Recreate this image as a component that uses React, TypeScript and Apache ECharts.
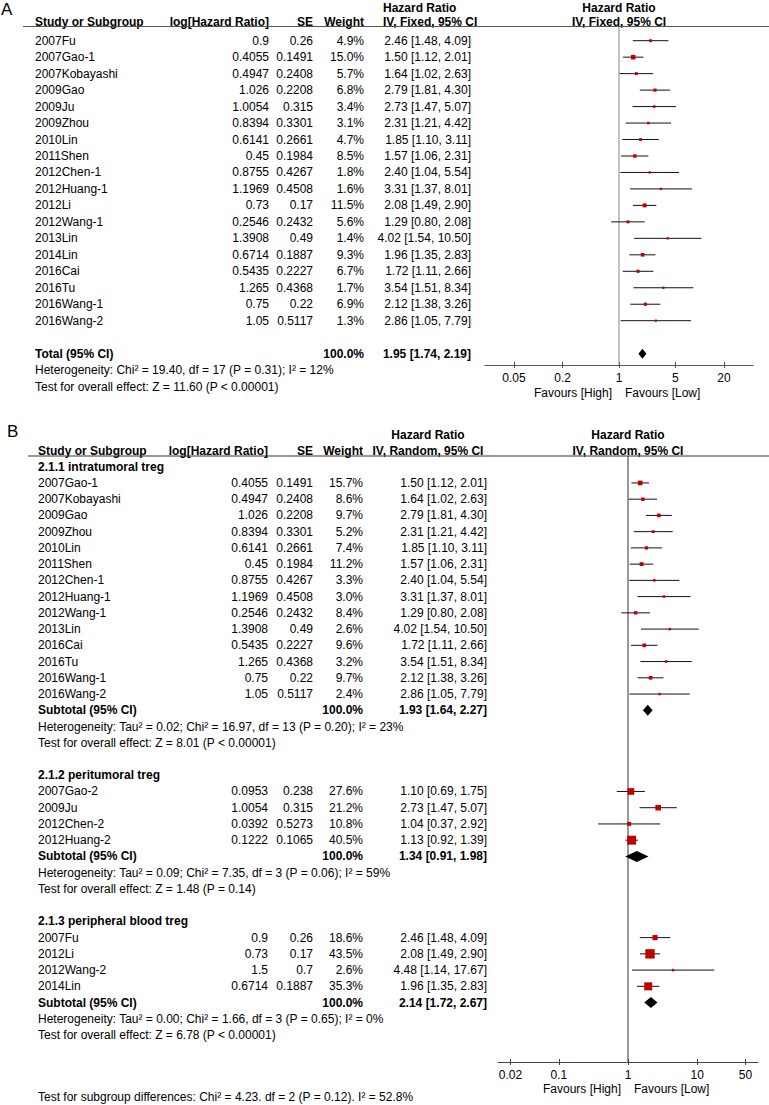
import React, { useEffect, useRef } from 'react';
import * as echarts from 'echarts';

const FONT = '"Liberation Sans", Arial, Helvetica, sans-serif';

// ---------- Panel A (fixed effect) ----------
const studiesA = ['2007Fu', '2007Gao-1', '2007Kobayashi', '2009Gao', '2009Ju', '2009Zhou', '2010Lin', '2011Shen', '2012Chen-1', '2012Huang-1', '2012Li', '2012Wang-1', '2013Lin', '2014Lin', '2016Cai', '2016Tu', '2016Wang-1', '2016Wang-2'];
const logHRA = [0.9, 0.4055, 0.4947, 1.026, 1.0054, 0.8394, 0.6141, 0.45, 0.8755, 1.1969, 0.73, 0.2546, 1.3908, 0.6714, 0.5435, 1.265, 0.75, 1.05];
const seA = [0.26, 0.1491, 0.2408, 0.2208, 0.315, 0.3301, 0.2661, 0.1984, 0.4267, 0.4508, 0.17, 0.2432, 0.49, 0.1887, 0.2227, 0.4368, 0.22, 0.5117];
const weightA = [4.9, 15.0, 5.7, 6.8, 3.4, 3.1, 4.7, 8.5, 1.8, 1.6, 11.5, 5.6, 1.4, 9.3, 6.7, 1.7, 6.9, 1.3];
const hrA = [2.46, 1.50, 1.64, 2.79, 2.73, 2.31, 1.85, 1.57, 2.40, 3.31, 2.08, 1.29, 4.02, 1.96, 1.72, 3.54, 2.12, 2.86];
const loA = [1.48, 1.12, 1.02, 1.81, 1.47, 1.21, 1.10, 1.06, 1.04, 1.37, 1.49, 0.80, 1.54, 1.35, 1.11, 1.51, 1.38, 1.05];
const hiA = [4.09, 2.01, 2.63, 4.30, 5.07, 4.42, 3.11, 2.31, 5.54, 8.01, 2.90, 2.08, 10.50, 2.83, 2.66, 8.34, 3.26, 7.79];
const totalA = [1.95, 1.74, 2.19]; // HR, lower, upper
const hetA = 'Heterogeneity: Chi² = 19.40, df = 17 (P = 0.31); I² = 12%';
const testA = 'Test for overall effect: Z = 11.60 (P < 0.00001)';
const ticksA = [0.05, 0.2, 1, 5, 20];

// ---------- Panel B (random effects, subgroups) ----------
const groupTitlesB = ['2.1.1 intratumoral treg', '2.1.2 peritumoral treg', '2.1.3 peripheral blood treg'];

const studiesB1 = ['2007Gao-1', '2007Kobayashi', '2009Gao', '2009Zhou', '2010Lin', '2011Shen', '2012Chen-1', '2012Huang-1', '2012Wang-1', '2013Lin', '2016Cai', '2016Tu', '2016Wang-1', '2016Wang-2'];
const logHRB1 = [0.4055, 0.4947, 1.026, 0.8394, 0.6141, 0.45, 0.8755, 1.1969, 0.2546, 1.3908, 0.5435, 1.265, 0.75, 1.05];
const seB1 = [0.1491, 0.2408, 0.2208, 0.3301, 0.2661, 0.1984, 0.4267, 0.4508, 0.2432, 0.49, 0.2227, 0.4368, 0.22, 0.5117];
const weightB1 = [15.7, 8.6, 9.7, 5.2, 7.4, 11.2, 3.3, 3.0, 8.4, 2.6, 9.6, 3.2, 9.7, 2.4];
const hrB1 = [1.50, 1.64, 2.79, 2.31, 1.85, 1.57, 2.40, 3.31, 1.29, 4.02, 1.72, 3.54, 2.12, 2.86];
const loB1 = [1.12, 1.02, 1.81, 1.21, 1.10, 1.06, 1.04, 1.37, 0.80, 1.54, 1.11, 1.51, 1.38, 1.05];
const hiB1 = [2.01, 2.63, 4.30, 4.42, 3.11, 2.31, 5.54, 8.01, 2.08, 10.50, 2.66, 8.34, 3.26, 7.79];

const studiesB2 = ['2007Gao-2', '2009Ju', '2012Chen-2', '2012Huang-2'];
const logHRB2 = [0.0953, 1.0054, 0.0392, 0.1222];
const seB2 = [0.238, 0.315, 0.5273, 0.1065];
const weightB2 = [27.6, 21.2, 10.8, 40.5];
const hrB2 = [1.10, 2.73, 1.04, 1.13];
const loB2 = [0.69, 1.47, 0.37, 0.92];
const hiB2 = [1.75, 5.07, 2.92, 1.39];

const studiesB3 = ['2007Fu', '2012Li', '2012Wang-2', '2014Lin'];
const logHRB3 = [0.9, 0.73, 1.5, 0.6714];
const seB3 = [0.26, 0.17, 0.7, 0.1887];
const weightB3 = [18.6, 43.5, 2.6, 35.3];
const hrB3 = [2.46, 2.08, 4.48, 1.96];
const loB3 = [1.48, 1.49, 1.14, 1.35];
const hiB3 = [4.09, 2.90, 17.67, 2.83];

const subtotalB = [[1.93, 1.64, 2.27], [1.34, 0.91, 1.98], [2.14, 1.72, 2.67]];
const hetB = [
  'Heterogeneity: Tau² = 0.02; Chi² = 16.97, df = 13 (P = 0.20); I² = 23%',
  'Heterogeneity: Tau² = 0.09; Chi² = 7.35, df = 3 (P = 0.06); I² = 59%',
  'Heterogeneity: Tau² = 0.00; Chi² = 1.66, df = 3 (P = 0.65); I² = 0%',
];
const testB = [
  'Test for overall effect: Z = 8.01 (P < 0.00001)',
  'Test for overall effect: Z = 1.48 (P = 0.14)',
  'Test for overall effect: Z = 6.78 (P < 0.00001)',
];
const subgroupDiff = 'Test for subgroup differences: Chi² = 4.23. df = 2 (P = 0.12). I² = 52.8%';
const ticksB = [0.02, 0.1, 1, 10, 50];

// ---------- row building ----------
type Row = {
  r: number;
  kind: 'study' | 'total' | 'group' | 'note';
  name: string;
  logHR?: number; se?: number; w?: number; hr?: number; lo?: number; hi?: number;
};

function studyRows(start: number, names: string[], lh: number[], se: number[], w: number[], hr: number[], lo: number[], hi: number[]): Row[] {
  return names.map((n, i) => ({ r: start + i, kind: 'study', name: n, logHR: lh[i], se: se[i], w: w[i], hr: hr[i], lo: lo[i], hi: hi[i] }));
}

const rowsA: Row[] = [
  ...studyRows(0, studiesA, logHRA, seA, weightA, hrA, loA, hiA),
  { r: studiesA.length + 1, kind: 'total', name: 'Total (95% CI)', hr: totalA[0], lo: totalA[1], hi: totalA[2] },
  { r: studiesA.length + 2, kind: 'note', name: hetA },
  { r: studiesA.length + 3, kind: 'note', name: testA },
];

const groupsB = [
  [studiesB1, logHRB1, seB1, weightB1, hrB1, loB1, hiB1],
  [studiesB2, logHRB2, seB2, weightB2, hrB2, loB2, hiB2],
  [studiesB3, logHRB3, seB3, weightB3, hrB3, loB3, hiB3],
] as any[];

const rowsB: Row[] = [];
{
  let r = 0;
  groupsB.forEach((g, gi) => {
    rowsB.push({ r: r++, kind: 'group', name: groupTitlesB[gi] });
    const sr = studyRows(r, g[0], g[1], g[2], g[3], g[4], g[5], g[6]);
    rowsB.push(...sr);
    r += sr.length;
    const st = subtotalB[gi];
    rowsB.push({ r: r++, kind: 'total', name: 'Subtotal (95% CI)', hr: st[0], lo: st[1], hi: st[2] });
    rowsB.push({ r: r++, kind: 'note', name: hetB[gi] });
    rowsB.push({ r: r++, kind: 'note', name: testB[gi] });
    r += 1;
  });
}

const L = (v: number) => Math.log10(v);

type Cols = { name: number; logHR: number; se: number; w: number; ci: number; dia: number };
const colsA: Cols = { name: 35, logHR: 269, se: 313, w: 364, ci: 471, dia: 10 };
const colsB: Cols = { name: 38, logHR: 268, se: 313, w: 363, ci: 487, dia: 11 };

function txt(text: string, x: number, y: number, align: string, bold = false, size = 12) {
  return {
    type: 'text', x, y, silent: true,
    style: { text, fill: '#000', font: `${bold ? 'bold ' : ''}${size}px ${FONT}`, textAlign: align, textVerticalAlign: 'middle' },
  };
}

const ciText = (hr: number, lo: number, hi: number) => `${hr.toFixed(2)} [${lo.toFixed(2)}, ${hi.toFixed(2)}]`;

function makeRender(rows: Row[], c: Cols) {
  return (params: any, api: any) => {
    const row = rows[params.dataIndex];
    const y = api.coord([0, row.r])[1];
    const ch: any[] = [];
    if (row.kind === 'study') {
      ch.push(txt(row.name, c.name, y, 'left'));
      ch.push(txt(String(row.logHR), c.logHR, y, 'right'));
      ch.push(txt(String(row.se), c.se, y, 'right'));
      ch.push(txt(`${(row.w as number).toFixed(1)}%`, c.w, y, 'right'));
      ch.push(txt(ciText(row.hr!, row.lo!, row.hi!), c.ci, y, 'right'));
      const x1 = api.coord([L(row.lo!), row.r])[0];
      const x2 = api.coord([L(row.hi!), row.r])[0];
      const xc = api.coord([L(row.hr!), row.r])[0];
      ch.push({ type: 'line', shape: { x1, y1: y, x2, y2: y }, style: { stroke: '#111', lineWidth: 1 } });
      const s = 2 + 0.17 * (row.w as number);
      ch.push({ type: 'rect', shape: { x: xc - s / 2, y: y - s / 2, width: s, height: s }, style: { fill: '#c00000' } });
    } else if (row.kind === 'total') {
      ch.push(txt(row.name, c.name, y, 'left', true));
      ch.push(txt('100.0%', c.w, y, 'right', true));
      ch.push(txt(ciText(row.hr!, row.lo!, row.hi!), c.ci, y, 'right', true));
      const xl = api.coord([L(row.lo!), row.r])[0];
      const xr = api.coord([L(row.hi!), row.r])[0];
      const xc = api.coord([L(row.hr!), row.r])[0];
      const h = c.dia / 2;
      ch.push({ type: 'polygon', shape: { points: [[xl, y], [xc, y - h], [xr, y], [xc, y + h]] }, style: { fill: '#000' } });
    } else if (row.kind === 'group') {
      ch.push(txt(row.name, c.name, y, 'left', true));
    } else {
      ch.push(txt(row.name, c.name, y, 'left'));
    }
    return { type: 'group', children: ch };
  };
}

function refRender(color: string) {
  return (params: any, api: any) => {
    const x = api.coord([0, 0])[0];
    const cs = params.coordSys;
    return { type: 'line', shape: { x1: x, y1: cs.y, x2: x, y2: cs.y + cs.height }, style: { stroke: color, lineWidth: 1 } };
  };
}

const fmtTick = (v: number) => String(Number(Math.pow(10, v).toPrecision(3)));

function axisPair(grid: number, min: number, max: number, ticks: number[], color: string) {
  const cv = ticks.map(L);
  return [
    {
      gridIndex: grid, type: 'value', min, max, position: 'bottom',
      axisLine: { show: true, onZero: false, lineStyle: { color, width: 1 } },
      axisTick: { show: true, customValues: cv, length: 3, lineStyle: { color, width: 1 } },
      axisLabel: { show: true, customValues: cv, formatter: fmtTick, color: '#000', fontSize: 12, fontFamily: FONT, margin: 7 },
      splitLine: { show: false },
    },
    {
      gridIndex: grid, type: 'value', min, max, position: 'bottom',
      axisLine: { show: false, onZero: false },
      axisTick: { show: true, inside: true, customValues: cv, length: 3, lineStyle: { color, width: 1 } },
      axisLabel: { show: false },
      splitLine: { show: false },
    },
  ];
}

const graphics: any[] = [
  // Panel A header
  txt('A', 1, 9, 'left', false, 17),
  txt('Hazard Ratio', 383, 7.5, 'left', true),
  txt('Hazard Ratio', 619, 7.5, 'center', true),
  txt('Study or Subgroup', 35, 21.5, 'left', true),
  txt('log[Hazard Ratio]', 269, 21.5, 'right', true),
  txt('SE', 313, 21.5, 'right', true),
  txt('Weight', 364, 21.5, 'right', true),
  txt('IV, Fixed, 95% CI', 383, 21.5, 'left', true),
  txt('IV, Fixed, 95% CI', 619, 21.5, 'center', true),
  { type: 'line', silent: true, shape: { x1: 23, y1: 26.5, x2: 769, y2: 26.5 }, style: { stroke: '#555', lineWidth: 1 } },
  txt('Favours [High]', 612, 393, 'right'),
  txt('Favours [Low]', 625, 393, 'left'),
  // Panel B header
  txt('B', 7, 431, 'left', false, 17),
  txt('Hazard Ratio', 428, 435, 'center', true),
  txt('Hazard Ratio', 628, 435, 'center', true),
  txt('Study or Subgroup', 38, 451, 'left', true),
  txt('log[Hazard Ratio]', 268, 451, 'right', true),
  txt('SE', 313, 451, 'right', true),
  txt('Weight', 363, 451, 'right', true),
  txt('IV, Random, 95% CI', 428, 451, 'center', true),
  txt('IV, Random, 95% CI', 628, 451, 'center', true),
  { type: 'line', silent: true, shape: { x1: 28, y1: 456, x2: 769, y2: 456 }, style: { stroke: '#333', lineWidth: 1 } },
  txt('Favours [High]', 621, 1089, 'right'),
  txt('Favours [Low]', 634, 1089, 'left'),
  txt(subgroupDiff, 38, 1097, 'left'),
];

const option: any = {
  animation: false,
  backgroundColor: '#fff',
  grid: [
    { left: 485, right: 16, top: 26.5, height: 338.5, containLabel: false, outerBoundsMode: 'none' },
    { left: 498, right: 11, top: 456, height: 606, containLabel: false, outerBoundsMode: 'none' },
  ],
  xAxis: [
    ...axisPair(0, -1.66, 1.66, ticksA, '#555'),
    ...axisPair(1, -1.879, 1.879, ticksB, '#444'),
  ],
  yAxis: [
    { gridIndex: 0, type: 'value', inverse: true, min: -0.862, max: 19.69, show: false },
    { gridIndex: 1, type: 'value', inverse: true, min: -0.659, max: 36.66, show: false },
  ],
  graphic: graphics,
  series: [
    { type: 'custom', xAxisIndex: 0, yAxisIndex: 0, z: 1, silent: true, data: [[0, 0]], renderItem: refRender('#888') },
    {
      type: 'custom', xAxisIndex: 0, yAxisIndex: 0, z: 2, silent: true,
      data: rowsA.map(r => [r.hr ? L(r.hr) : 0, r.r]),
      renderItem: makeRender(rowsA, colsA),
    },
    { type: 'custom', xAxisIndex: 2, yAxisIndex: 1, z: 1, silent: true, data: [[0, 0]], renderItem: refRender('#333') },
    {
      type: 'custom', xAxisIndex: 2, yAxisIndex: 1, z: 2, silent: true,
      data: rowsB.map(r => [r.hr ? L(r.hr) : 0, r.r]),
      renderItem: makeRender(rowsB, colsB),
    },
  ],
};

export default function App() {
  const ref = useRef<HTMLDivElement>(null);
  useEffect(() => {
    const chart = echarts.init(ref.current as HTMLDivElement, null, { renderer: 'svg' });
    chart.setOption(option);
    return () => chart.dispose();
  }, []);
  return <div ref={ref} style={{ position: 'absolute', left: 0, top: 0, width: 769, height: 1105, background: '#fff' }} />;
}
